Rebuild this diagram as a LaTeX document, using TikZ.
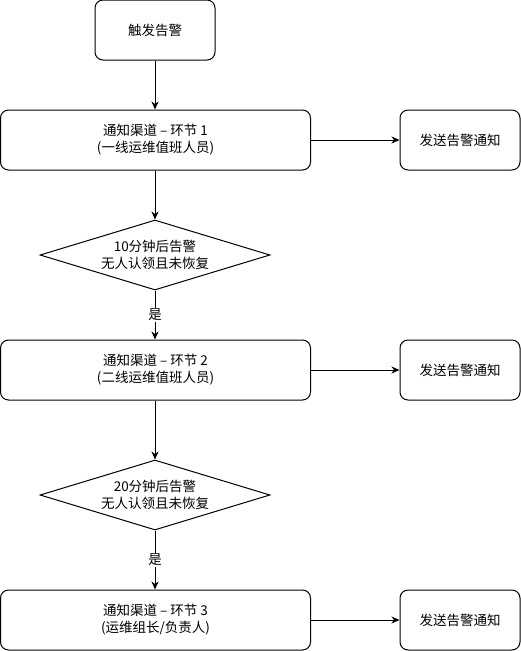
\documentclass[tikz,border=0pt]{standalone}
\usepackage{fontspec}
\setmainfont{Noto Sans CJK SC}
\usetikzlibrary{arrows.meta,shapes.geometric}

\begin{document}
\begin{tikzpicture}[x=1pt,y=-1pt,
    line width=1pt,
    >={Stealth[length=8pt,width=7pt,inset=2.5pt]},
    every node/.style={font=\fontsize{13.5pt}{17pt}\selectfont, align=center, inner sep=0pt},
    bigbox/.style={draw, rounded corners=8pt, minimum width=310pt, minimum height=60pt},
    smallbox/.style={draw, rounded corners=8pt, minimum width=120pt, minimum height=60pt},
    check/.style={draw, diamond, aspect=3.3, minimum width=230pt, minimum height=70pt},
    yes/.style={fill=white, inner sep=1.5pt}]

    \useasboundingbox (0,0) rectangle (521,651);

    \node[smallbox] (start) at (155,30) {触发告警};

    \node[bigbox] (step1) at (155.5,140) {通知渠道 – 环节 1\\(一线运维值班人员)};
    \node[smallbox] (send1) at (460,140) {发送告警通知};

    \node[check] (wait1) at (155,255) {10分钟后告警\\无人认领且未恢复};

    \node[bigbox] (step2) at (155.5,370) {通知渠道 – 环节 2\\(二线运维值班人员)};
    \node[smallbox] (send2) at (460,370) {发送告警通知};

    \node[check] (wait2) at (155,495) {20分钟后告警\\无人认领且未恢复};

    \node[bigbox] (step3) at (155.5,620) {通知渠道 – 环节 3\\(运维组长/负责人)};
    \node[smallbox] (send3) at (460,620) {发送告警通知};

    \draw[->] (start) -- (start |- step1.north);
    \draw[->] (step1) -- (send1);
    \draw[->] (start |- step1.south) -- (wait1);
    \draw[->] (wait1) -- node[yes] {是} (wait1 |- step2.north);
    \draw[->] (step2) -- (send2);
    \draw[->] (wait1 |- step2.south) -- (wait2);
    \draw[->] (wait2) -- node[yes] {是} (wait2 |- step3.north);
    \draw[->] (step3) -- (send3);

\end{tikzpicture}
\end{document}
